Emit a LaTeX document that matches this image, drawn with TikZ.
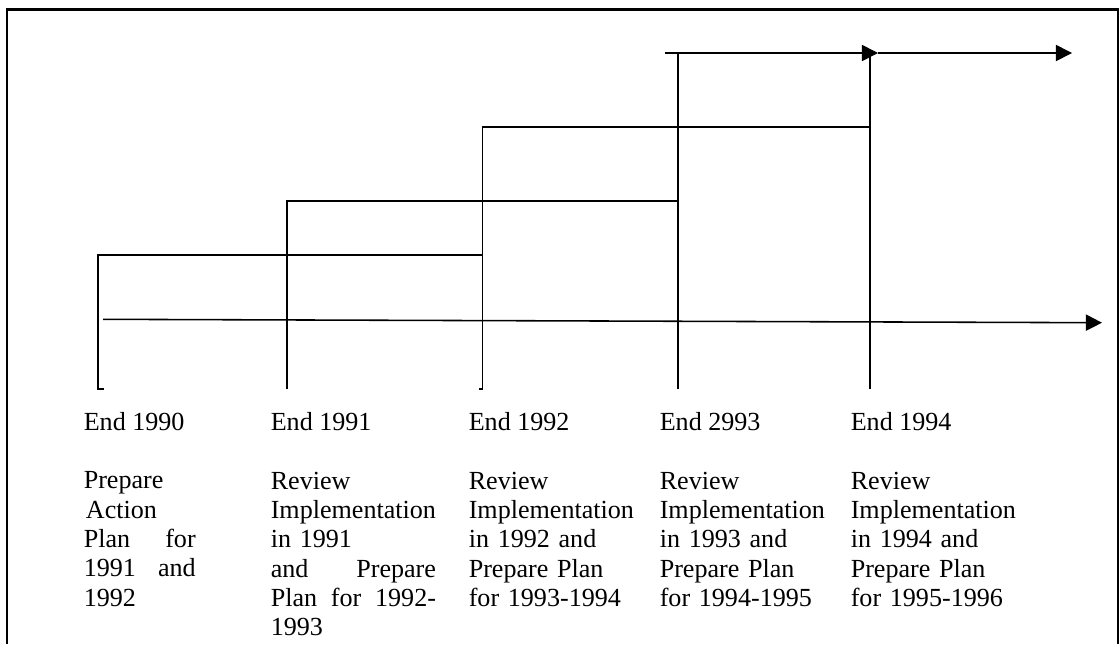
\documentclass[tikz,border=0pt]{standalone}
\usepackage{fontspec}
\setmainfont{Liberation Serif}
\usetikzlibrary{arrows.meta}
\begin{document}
\begin{tikzpicture}[x=0.46pt,y=-0.46pt,line width=0.72pt,
    arr/.style={-{Triangle[length=7.4pt,width=7.4pt]}},
    yr/.style={anchor=base west,inner sep=0pt,font=\fontsize{12}{13.5}\selectfont},
    txt/.style={anchor=north west,inner sep=0pt,align=left,text width=85pt,font=\fontsize{12}{13.5}\selectfont}]
			\useasboundingbox (0,0) rectangle (1119,644);
			\draw [line width=1.2pt] (7,644) -- (7,9.5) -- (1118,9.5) -- (1118,644);
			\coordinate (t90) at (98,255);
			\coordinate (b90) at (98,389);
			\coordinate (t91) at (287,201);
			\coordinate (b91) at (287,389);
			\coordinate (t92) at (482.5,127);
			\coordinate (b92) at (482.5,389);
			\coordinate (t93) at (678,53);
			\coordinate (b93) at (678,389);
			\coordinate (t94) at (870,53);
			\coordinate (b94) at (870,389);
			\coordinate (s93) at (665,53);
			\coordinate (m94) at (878,53);
			\coordinate (e95) at (1072,53);
			\coordinate (s0) at (103,319.3);
			\coordinate (e0) at (1102,322.7);
			\draw (b90) ++(6,0) to (b90) to (t90) to (t90 -| t92);
			\draw (b91) to (t91) to (t91 -| t93);
			\draw (b92) ++(-3.5,0) to (b92) to (t92) to (t92 -| t94);
			\draw (b93) to (t93);
			\draw (b94) to (t94);
			\draw [arr] (s93) to (m94);
			\draw [arr] (m94) to (e95);
			\draw [arr] (s0) to (e0);
			\node [yr] (y90) at (83,430) {End 1990};
			\node [yr] (y91) at (270,430) {End 1991};
			\node [yr] (y92) at (468,430) {End 1992};
			\node [yr] (y93) at (659,430) {End 2993};
			\node [yr] (y94) at (850,430) {End 1994};
			\node [txt,text width=51.5pt] (d90) at (83,471) {Prepare\\\hspace*{1pt}Action\\Plan\hspace{\fill}for\\1991\hspace{\fill}and\\1992};
			\node [txt,text width=76pt] (d91) at (270,471) {Review\\Implementation\\in 1991\\and\hspace{\fill}Prepare\\Plan\hspace{\fill}for\hspace{\fill}1992-\\1993};
			\node [txt] (d92) at (468,471) {Review\\Implementation\\in 1992 and\\Prepare Plan\\for 1993-1994};
			\node [txt] (d93) at (659,471) {Review\\Implementation\\in 1993 and\\Prepare Plan\\for 1994-1995};
			\node [txt] (d94) at (850,471) {Review\\Implementation\\in 1994 and\\Prepare Plan\\for 1995-1996};
		\end{tikzpicture}
\end{document}
